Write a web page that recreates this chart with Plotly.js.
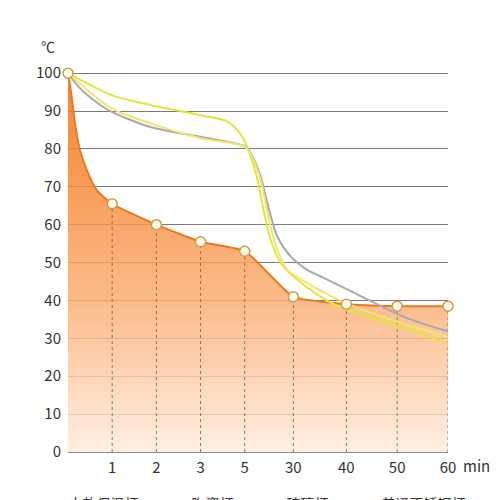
<!DOCTYPE html>
<html>
<head>
<meta charset="utf-8">
<script src="https://cdn.plot.ly/plotly-3.0.1.min.js"></script>
<style>html,body{margin:0;padding:0;background:#fff;}#chart{width:500px;height:500px;}</style>
</head>
<body>
<div id="chart"></div>
<script>
// Axis: tick slots and labels (time in minutes)
const xSlots = [0, 1, 2, 3, 4, 5.1, 6.3, 7.45, 8.6];
const xTickLabels = ['', '1', '2', '3', '5', '30', '40', '50', '60'];
const yTicks = [0, 10, 20, 30, 40, 50, 60, 70, 80, 90, 100];

// Series names (legend)
const seriesNames = ['本款保温杯', '陶瓷杯', '玻璃杯', '普通不锈钢杯'];

// Orange series (marked points at each tick)
const orangeTemps = [100, 65.5, 60, 55.5, 53, 41, 39, 38.5, 38.5];
// Orange early decay between 0 and 1 min
const orangeDecaySlots = [0.008, 0.084, 0.16, 0.27, 0.425, 0.65];
const orangeDecayTemps = [99.5, 93.7, 86.7, 79.7, 74.4, 69.1];

// Yellow-green series
const yellowSlots = [0, 0.99, 1.86, 3.0, 3.61, 3.91, 4.1, 4.29, 4.44, 4.59, 4.82, 5.2, 6.02, 7.55, 8.73];
const yellowTemps = [100, 94.2, 91.6, 88.9, 87.2, 83.8, 79.2, 71.8, 63, 55.9, 49.8, 45.4, 39, 33, 28];

// Gray series
const graySlots = [0, 0.27, 0.73, 0.99, 1.86, 3.0, 4.02, 4.14, 4.36, 4.55, 4.74, 5.05, 5.42, 5.73, 6.48, 7.61, 8.73];
const grayTemps = [100, 96, 91.6, 89.8, 85.8, 83.2, 80.6, 78.8, 72.7, 63.9, 56.8, 51.5, 48, 46.3, 42, 35.6, 31.4];

// Pale yellow series
const paleSlots = [0, 0.99, 1.86, 3.0, 4.02, 4.18, 4.36, 4.55, 4.74, 4.97, 5.42, 6.25, 7.55, 8.73];
const paleTemps = [100, 90.7, 86.8, 82.8, 80.5, 77.5, 71.8, 61.2, 53.3, 48, 44.6, 39.5, 34, 30];

const FONT = '"Noto Sans CJK SC", "Noto Sans", sans-serif';

// Build orange area curve from data
const orangeLineX = [xSlots[0]].concat(orangeDecaySlots, xSlots.slice(1));
const orangeLineY = [orangeTemps[0]].concat(orangeDecayTemps, orangeTemps.slice(1));

const traces = [];

traces.push({
  type: 'scatter', mode: 'lines', name: seriesNames[0],
  x: orangeLineX, y: orangeLineY,
  line: {color: '#ec791c', width: 2, shape: 'spline', smoothing: 0.5},
  fill: 'tozeroy',
  fillgradient: {type: 'vertical', start: 0, stop: 100,
    colorscale: [[0, 'rgba(255,236,222,0.82)'], [0.4, 'rgba(250,172,112,0.82)'],
                 [0.7, 'rgba(246,140,60,0.85)'], [1, 'rgba(242,118,28,0.9)']]},
  hoverinfo: 'skip'
});

// dashed drop lines
for (let i = 1; i < xSlots.length; i++) {
  traces.push({
    type: 'scatter', mode: 'lines', x: [xSlots[i], xSlots[i]], y: [0, orangeTemps[i]],
    line: {color: 'rgba(160,100,60,0.9)', width: 1, dash: '3px,3px'},
    showlegend: false, hoverinfo: 'skip'
  });
}

traces.push({
  type: 'scatter', mode: 'lines', name: seriesNames[1],
  x: yellowSlots, y: yellowTemps,
  line: {color: '#dfe63e', width: 2, shape: 'spline', smoothing: 0.8}
});
traces.push({
  type: 'scatter', mode: 'lines', name: seriesNames[2],
  x: graySlots, y: grayTemps,
  line: {color: '#a9a9ad', width: 2, shape: 'spline', smoothing: 0.8}
});
traces.push({
  type: 'scatter', mode: 'lines', name: seriesNames[3],
  x: paleSlots, y: paleTemps,
  line: {color: '#f1e56a', width: 2, shape: 'spline', smoothing: 0.8}
});

// markers
traces.push({
  type: 'scatter', mode: 'markers', x: xSlots, y: orangeTemps,
  marker: {size: 10, color: '#fffbea', line: {color: '#d49a4c', width: 1.5}},
  cliponaxis: false, showlegend: false
});

const layout = {
  width: 500, height: 500,
  margin: {l: 68, r: 52, t: 72, b: 48, autoexpand: false},
  paper_bgcolor: '#ffffff', plot_bgcolor: '#ffffff',
  font: {family: FONT, color: '#333333', size: 15},
  showlegend: true,
  legend: {orientation: 'h', x: -0.125, xanchor: 'left', y: -0.095, yanchor: 'top',
    itemwidth: 38, font: {family: FONT, size: 14, color: '#333'}},
  xaxis: {
    range: [0, 8.6], tickmode: 'array', tickvals: xSlots, ticktext: xTickLabels,
    showgrid: false, zeroline: false, showline: true, linecolor: '#8a8a8a', linewidth: 1,
    ticks: '', ticklabelstandoff: 2, tickfont: {family: FONT, size: 15, color: '#333'}, fixedrange: true
  },
  yaxis: {
    range: [0, 100.3], tickmode: 'array', tickvals: yTicks,
    showgrid: true, gridcolor: '#7a7a7a', gridwidth: 1, zeroline: false, showline: false,
    ticks: '', ticklabelstandoff: 6, tickfont: {family: FONT, size: 15, color: '#333'}, fixedrange: true
  },
  annotations: [
    {text: '℃', xref: 'paper', yref: 'paper', x: (48 - 68) / 380, y: (452 - 46) / 380,
      xanchor: 'center', yanchor: 'middle',
      showarrow: false, font: {family: FONT, size: 14, color: '#333'}},
    {text: 'min', xref: 'paper', yref: 'paper', x: (476 - 68) / 380, y: (452 - 466) / 380,
      xanchor: 'center', yanchor: 'middle',
      showarrow: false, font: {family: FONT, size: 15, color: '#333'}}
  ]
};

Plotly.newPlot('chart', traces, layout, {staticPlot: true, displayModeBar: false});
</script>
</body>
</html>
